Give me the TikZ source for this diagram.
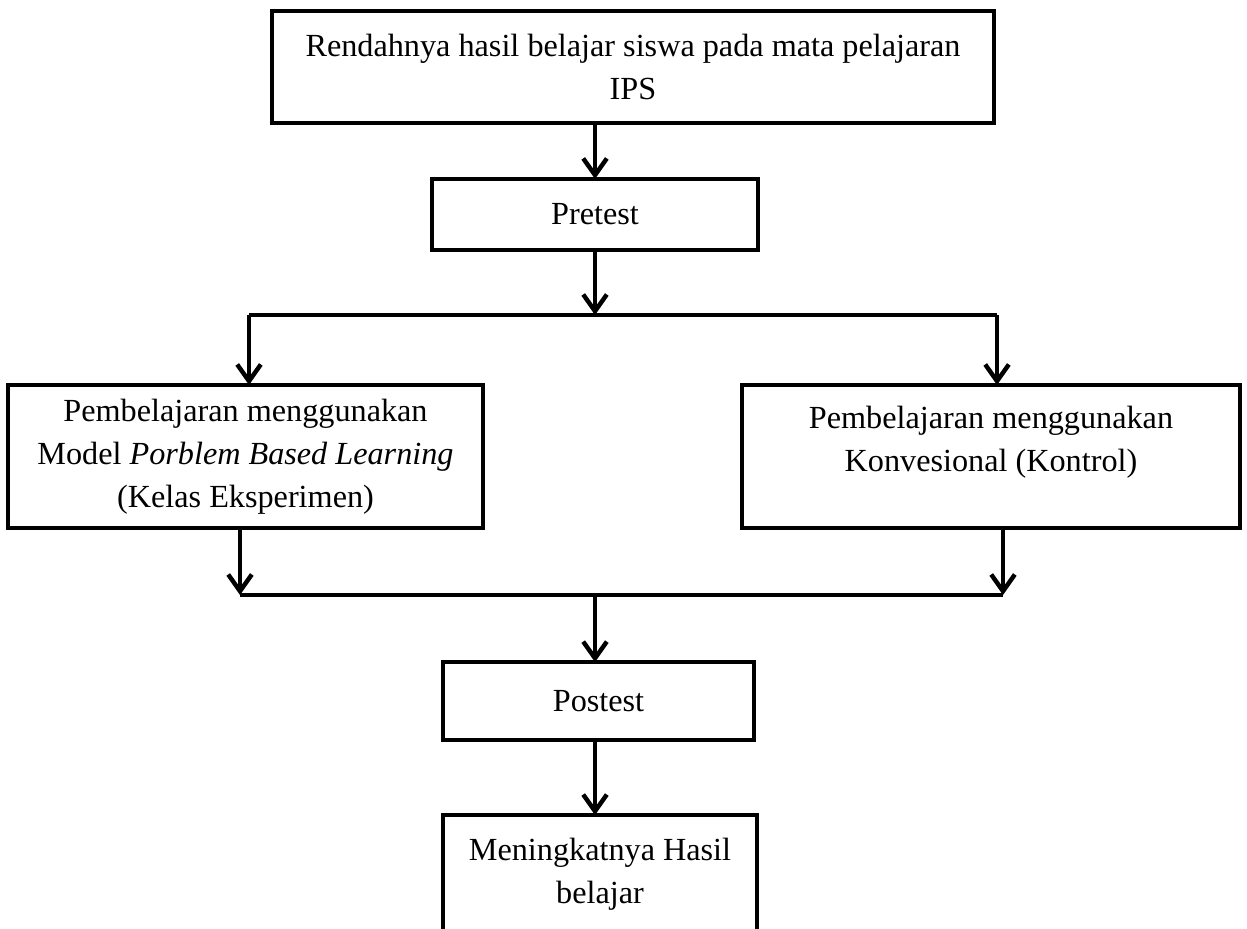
\documentclass[tikz,border=0pt]{standalone}
\usepackage{fontspec}
\setmainfont{Liberation Serif}
\usepackage{tikz}
\usetikzlibrary{positioning}
\usetikzlibrary{arrows.meta}

\tikzset{
  box/.style={draw, line width=1.6pt, align=center, fill=white, inner sep=2pt, font=\fontsize{11.6}{15.5}\selectfont},
  arr/.style={line width=1.6pt, -{Straight Barb[length=6pt,width=8.5pt]}},
  wire/.style={line width=1.6pt}
}

\begin{document}
\begin{tikzpicture}[x=0.36pt, y=-0.36pt, node distance=0pt, outer sep=0pt]
\useasboundingbox (0,0) rectangle (1247,928);

% Row 1
\node [box, minimum width=260pt, minimum height=40.3pt] (masalah) at (633,67) {Rendahnya hasil belajar siswa pada mata pelajaran\\IPS};
\node [box, minimum width=117.4pt, minimum height=25.6pt] (pretest) at (595,214.5) {Pretest};

% Row 2
\node [box, minimum width=171pt, minimum height=51.5pt] (eksperimen) at (245.5,456.5) {Pembelajaran menggunakan\\Model \textit{Porblem Based Learning}\\(Kelas Eksperimen)};
\node [box, minimum width=179.3pt, minimum height=51.5pt] (kontrol) at (991,456.5) {Pembelajaran menggunakan\\Konvesional (Kontrol)\\[-3pt]\mbox{}};

% Row 3
\node [box, minimum width=112pt, minimum height=28pt] (postest) at (598.5,701) {Postest};
\node [box, minimum width=113pt, minimum height=42.8pt] (hasil) at (600,874.5) {Meningkatnya Hasil\\belajar};

% branch points
\coordinate (cabang) at (595,315);
\coordinate (cabangkiri) at (249,315);
\coordinate (cabangkanan) at (997,315);
\coordinate (gabung) at (595,595);
\coordinate (gabungkiri) at (240,595);
\coordinate (gabungkanan) at (1003,595);

% connectors
\draw [arr] (masalah.south -| pretest.north) -- (pretest.north);
\draw [arr] (pretest.south -| cabang) -- (cabang);
\draw [wire] (cabangkiri) -- (cabangkanan);
\draw [arr] (cabangkiri) -- (cabangkiri |- eksperimen.north);
\draw [arr] (cabangkanan) -- (cabangkanan |- kontrol.north);
\draw [arr] (eksperimen.south -| gabungkiri) -- (gabungkiri);
\draw [arr] (kontrol.south -| gabungkanan) -- (gabungkanan);
\draw [wire] (gabungkiri) -- (gabungkanan);
\draw [arr] (gabung) -- (gabung |- postest.north);
\draw [arr] (postest.south -| gabung) -- (gabung |- hasil.north);

\end{tikzpicture}
\end{document}
